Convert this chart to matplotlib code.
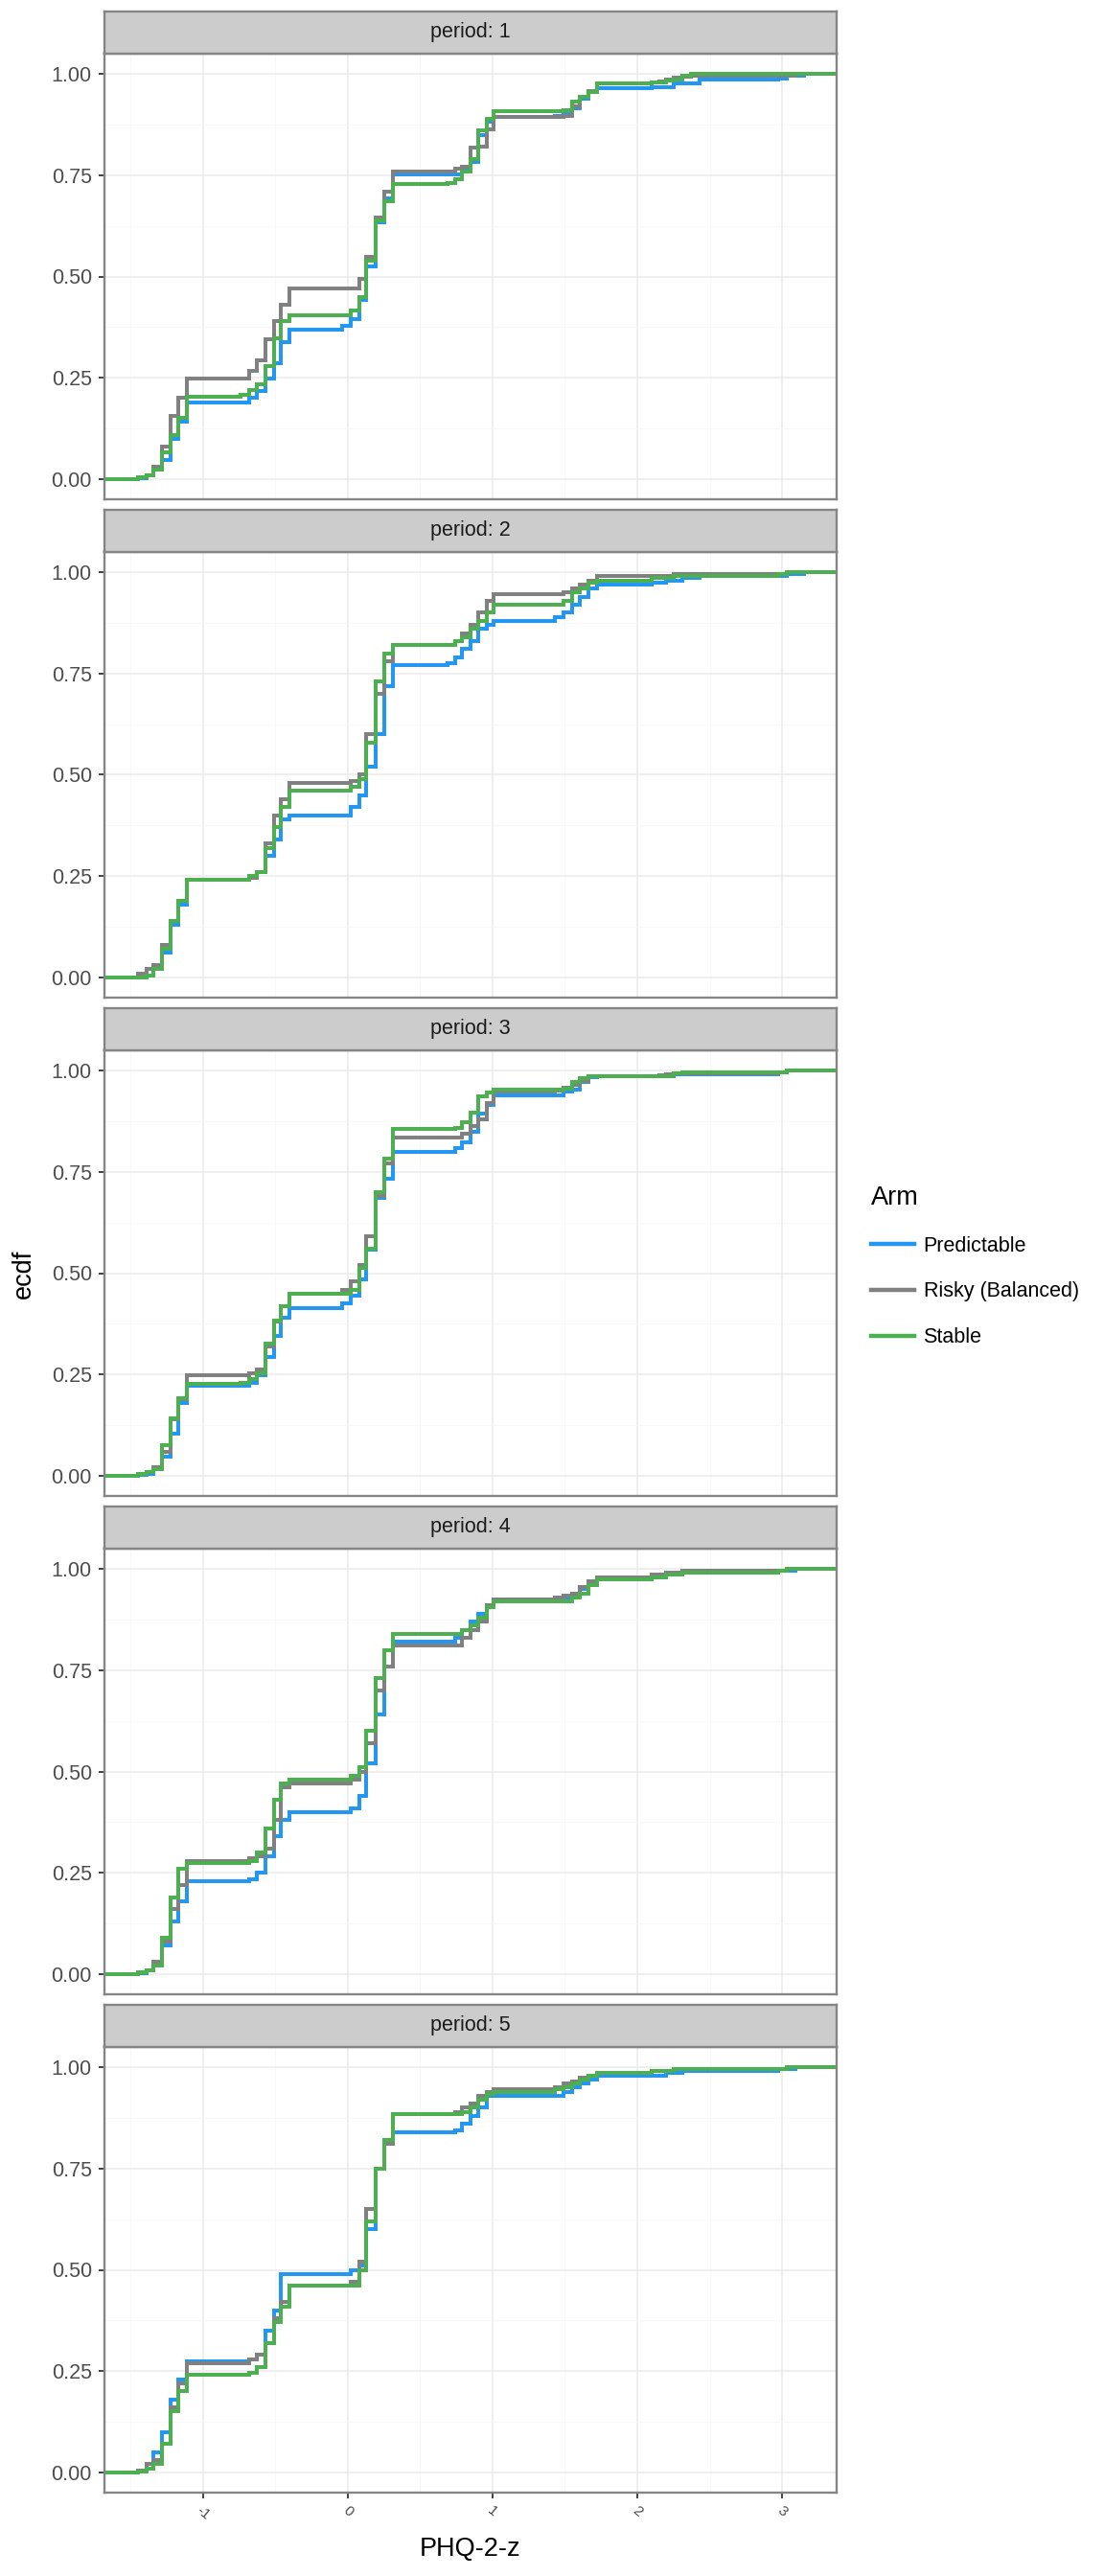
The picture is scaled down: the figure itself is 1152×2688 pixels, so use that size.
import numpy as np
import matplotlib.pyplot as plt
from matplotlib.lines import Line2D

plt.rcParams['font.family'] = ['Liberation Sans', 'DejaVu Sans']

arms = ['Predictable', 'Risky (Balanced)', 'Stable']
arm_colors = ['#2196F3', '#808080', '#4CAF50']
periods = [1, 2, 3, 4, 5]

# PHQ-2-z values where the ecdf steps
x_steps = [-1.45, -1.39, -1.34, -1.28, -1.22, -1.17, -1.11,
           -0.74, -0.68, -0.63, -0.57, -0.51, -0.46, -0.40,
           -0.04, 0.02, 0.08, 0.13, 0.19, 0.25, 0.31,
           0.69, 0.74, 0.79, 0.85, 0.90, 0.96, 1.01,
           1.43, 1.49, 1.55, 1.60, 1.66, 1.72,
           2.10, 2.15, 2.20, 2.25, 2.31, 2.37, 2.43,
           2.97, 3.03, 3.09, 3.15]

# ecdf value after each step, one row per period
predictable = [
    [0.002, 0.010, 0.027, 0.048, 0.100, 0.141, 0.190,
     0.190, 0.200, 0.217, 0.247, 0.286, 0.337, 0.369,
     0.379, 0.394, 0.443, 0.525, 0.633, 0.692, 0.752,
     0.752, 0.752, 0.766, 0.783, 0.849, 0.883, 0.894,
     0.897, 0.905, 0.915, 0.940, 0.955, 0.964,
     0.967, 0.967, 0.967, 0.977, 0.977, 0.977, 0.986,
     0.989, 0.995, 0.995, 1.000],
    [0.000, 0.005, 0.020, 0.060, 0.130, 0.180, 0.240,
     0.240, 0.245, 0.260, 0.300, 0.340, 0.390, 0.400,
     0.400, 0.420, 0.450, 0.520, 0.600, 0.720, 0.770,
     0.775, 0.790, 0.810, 0.830, 0.860, 0.870, 0.880,
     0.890, 0.900, 0.920, 0.940, 0.960, 0.970,
     0.975, 0.975, 0.980, 0.980, 0.985, 0.985, 0.990,
     0.990, 0.995, 0.995, 1.000],
    [0.002, 0.004, 0.019, 0.048, 0.103, 0.179, 0.223,
     0.223, 0.230, 0.247, 0.293, 0.345, 0.390, 0.414,
     0.426, 0.445, 0.485, 0.559, 0.686, 0.734, 0.800,
     0.800, 0.808, 0.823, 0.848, 0.893, 0.914, 0.939,
     0.940, 0.948, 0.952, 0.973, 0.983, 0.985,
     0.985, 0.985, 0.985, 0.990, 0.990, 0.990, 0.990,
     0.996, 1.000, 1.000, 1.000],
    [0.003, 0.010, 0.025, 0.070, 0.130, 0.180, 0.230,
     0.230, 0.235, 0.250, 0.290, 0.340, 0.380, 0.400,
     0.400, 0.410, 0.440, 0.520, 0.640, 0.760, 0.820,
     0.820, 0.830, 0.850, 0.870, 0.890, 0.910, 0.925,
     0.925, 0.930, 0.940, 0.950, 0.960, 0.975,
     0.980, 0.980, 0.985, 0.985, 0.990, 0.990, 0.990,
     0.995, 0.995, 1.000, 1.000],
    [0.005, 0.020, 0.050, 0.100, 0.180, 0.230, 0.275,
     0.275, 0.280, 0.290, 0.350, 0.400, 0.490, 0.490,
     0.490, 0.500, 0.510, 0.600, 0.750, 0.820, 0.840,
     0.840, 0.845, 0.860, 0.880, 0.900, 0.930, 0.930,
     0.930, 0.940, 0.950, 0.960, 0.970, 0.980,
     0.980, 0.980, 0.985, 0.985, 0.990, 0.990, 0.990,
     0.995, 0.995, 1.000, 1.000],
]

risky = [
    [0.004, 0.010, 0.030, 0.080, 0.156, 0.200, 0.248,
     0.248, 0.268, 0.293, 0.346, 0.389, 0.430, 0.470,
     0.470, 0.470, 0.494, 0.548, 0.646, 0.710, 0.758,
     0.760, 0.765, 0.772, 0.817, 0.820, 0.863, 0.894,
     0.894, 0.897, 0.920, 0.943, 0.958, 0.976,
     0.979, 0.981, 0.985, 0.990, 0.994, 0.995, 0.995,
     0.995, 0.995, 1.000, 1.000],
    [0.010, 0.020, 0.030, 0.080, 0.140, 0.190, 0.240,
     0.240, 0.245, 0.260, 0.330, 0.400, 0.440, 0.480,
     0.480, 0.485, 0.500, 0.600, 0.700, 0.780, 0.820,
     0.820, 0.830, 0.850, 0.870, 0.900, 0.930, 0.945,
     0.945, 0.950, 0.960, 0.970, 0.980, 0.990,
     0.990, 0.990, 0.990, 0.995, 0.995, 0.995, 0.995,
     0.995, 1.000, 1.000, 1.000],
    [0.004, 0.010, 0.020, 0.060, 0.140, 0.190, 0.248,
     0.248, 0.252, 0.262, 0.320, 0.380, 0.418, 0.448,
     0.458, 0.480, 0.520, 0.590, 0.690, 0.770, 0.835,
     0.835, 0.835, 0.845, 0.862, 0.880, 0.920, 0.948,
     0.950, 0.958, 0.965, 0.975, 0.985, 0.985,
     0.985, 0.988, 0.990, 0.993, 0.993, 0.993, 0.993,
     0.996, 1.000, 1.000, 1.000],
    [0.005, 0.010, 0.030, 0.080, 0.160, 0.220, 0.280,
     0.280, 0.285, 0.290, 0.310, 0.380, 0.460, 0.470,
     0.470, 0.480, 0.500, 0.570, 0.700, 0.760, 0.810,
     0.810, 0.810, 0.830, 0.850, 0.870, 0.910, 0.925,
     0.930, 0.935, 0.940, 0.955, 0.970, 0.980,
     0.985, 0.985, 0.990, 0.990, 0.995, 0.995, 0.995,
     0.995, 1.000, 1.000, 1.000],
    [0.005, 0.020, 0.030, 0.070, 0.160, 0.220, 0.270,
     0.270, 0.280, 0.290, 0.320, 0.380, 0.420, 0.460,
     0.460, 0.470, 0.520, 0.650, 0.750, 0.810, 0.885,
     0.885, 0.890, 0.900, 0.910, 0.930, 0.940, 0.945,
     0.950, 0.960, 0.965, 0.975, 0.980, 0.985,
     0.990, 0.990, 0.990, 0.995, 0.995, 0.995, 0.995,
     0.995, 1.000, 1.000, 1.000],
]

stable = [
    [0.004, 0.010, 0.023, 0.065, 0.109, 0.151, 0.204,
     0.209, 0.220, 0.234, 0.280, 0.348, 0.390, 0.405,
     0.405, 0.416, 0.449, 0.538, 0.639, 0.686, 0.728,
     0.730, 0.741, 0.758, 0.790, 0.861, 0.890, 0.907,
     0.907, 0.911, 0.931, 0.943, 0.956, 0.976,
     0.979, 0.979, 0.983, 0.987, 0.996, 1.000, 1.000,
     1.000, 1.000, 1.000, 1.000],
    [0.000, 0.005, 0.020, 0.070, 0.140, 0.190, 0.240,
     0.240, 0.250, 0.260, 0.320, 0.370, 0.420, 0.460,
     0.460, 0.470, 0.490, 0.580, 0.730, 0.800, 0.820,
     0.820, 0.830, 0.840, 0.860, 0.880, 0.900, 0.920,
     0.920, 0.930, 0.950, 0.960, 0.975, 0.980,
     0.985, 0.985, 0.985, 0.990, 0.990, 0.990, 0.990,
     0.995, 1.000, 1.000, 1.000],
    [0.004, 0.009, 0.016, 0.075, 0.141, 0.192, 0.227,
     0.230, 0.238, 0.253, 0.327, 0.382, 0.418, 0.448,
     0.448, 0.458, 0.513, 0.561, 0.700, 0.783, 0.855,
     0.855, 0.859, 0.873, 0.897, 0.937, 0.945, 0.954,
     0.954, 0.956, 0.973, 0.981, 0.986, 0.986,
     0.986, 0.986, 0.986, 0.993, 0.996, 0.996, 0.996,
     0.996, 1.000, 1.000, 1.000],
    [0.005, 0.010, 0.020, 0.090, 0.190, 0.260, 0.275,
     0.275, 0.280, 0.300, 0.360, 0.430, 0.470, 0.480,
     0.480, 0.490, 0.510, 0.600, 0.730, 0.800, 0.840,
     0.840, 0.840, 0.850, 0.860, 0.880, 0.905, 0.920,
     0.920, 0.920, 0.930, 0.940, 0.960, 0.975,
     0.980, 0.980, 0.985, 0.985, 0.990, 0.990, 0.990,
     0.995, 1.000, 1.000, 1.000],
    [0.003, 0.010, 0.020, 0.070, 0.150, 0.200, 0.240,
     0.240, 0.245, 0.260, 0.320, 0.370, 0.410, 0.460,
     0.460, 0.460, 0.500, 0.620, 0.750, 0.820, 0.885,
     0.885, 0.885, 0.890, 0.900, 0.920, 0.935, 0.940,
     0.945, 0.950, 0.960, 0.970, 0.980, 0.985,
     0.990, 0.990, 0.990, 0.995, 0.995, 0.995, 0.995,
     0.995, 1.000, 1.000, 1.000],
]

x_ticks = [-1, 0, 1, 2, 3]
x_tick_labels = ['-1', '0', '1', '2', '3']
y_ticks = [0.0, 0.25, 0.5, 0.75, 1.0]
y_tick_labels = ['0.00', '0.25', '0.50', '0.75', '1.00']

W, H = 1152, 2688
left_px, right_px = 109, 873
x_lim = (-1.68, 3.377)
border = '#858585'

fig = plt.figure(figsize=(W / 100, H / 100), dpi=100)

series = [predictable, risky, stable]
for k, period in enumerate(periods):
    strip_top = 12 + 520 * k
    top = 56 + 520 * k
    bottom = 521 + 520 * k

    ax = fig.add_axes([left_px / W, 1 - bottom / H,
                       (right_px - left_px) / W, (bottom - top) / H])
    ax.set_xlim(x_lim)
    ax.set_ylim(-0.05, 1.05)
    ax.set_xticks(x_ticks)
    ax.set_xticks([-1.5, -0.5, 0.5, 1.5, 2.5], minor=True)
    ax.set_yticks(y_ticks)
    ax.set_yticks([0.125, 0.375, 0.625, 0.875], minor=True)
    ax.set_yticklabels(y_tick_labels)
    ax.grid(which='major', color='#EBEBEB', lw=1.1)
    ax.grid(which='minor', color='#F7F7F7', lw=0.6)
    ax.set_axisbelow(True)
    ax.tick_params(axis='y', which='major', length=4.5, width=1.3,
                   color='#333333', labelsize=15.5, labelcolor='#4D4D4D', pad=5)
    ax.tick_params(which='minor', length=0)
    for sp in ax.spines.values():
        sp.set_color(border)
        sp.set_linewidth(1.7)

    for vals, col, name in zip(series, arm_colors, arms):
        xs = [x_lim[0]] + x_steps + [x_lim[1]]
        ys = [0.0] + vals[k] + [vals[k][-1]]
        ax.step(xs, ys, where='post', color=col, lw=2.85, label=name,
                solid_joinstyle='miter')

    if k == len(periods) - 1:
        ax.set_xticklabels(x_tick_labels)
        ax.tick_params(axis='x', which='major', length=4.5, width=1.3,
                       color='#333333', labelsize=11, labelcolor='#4D4D4D',
                       pad=4, labelrotation=-40)
        for lab in ax.get_xticklabels():
            lab.set_ha('center')
            lab.set_va('top')
    else:
        ax.tick_params(axis='x', which='major', length=0, labelbottom=False)

    sax = fig.add_axes([left_px / W, 1 - top / H,
                        (right_px - left_px) / W, (top - strip_top) / H])
    sax.set_facecolor('#CCCCCC')
    sax.set_xticks([])
    sax.set_yticks([])
    for sp in sax.spines.values():
        sp.set_color(border)
        sp.set_linewidth(1.7)
    sax.text(0.5, 0.5, f'period: {period}', ha='center', va='center',
             fontsize=15.5, color='#1A1A1A', transform=sax.transAxes)

fig.text(25 / W, 1 - 1329 / H, 'ecdf', rotation=90, ha='center', va='center',
         fontsize=19.5, color='black')
fig.text((left_px + right_px) / 2 / W, 1 - 2660 / H, 'PHQ-2-z',
         ha='center', va='center', fontsize=19.5, color='black')

handles = [Line2D([], [], color=c, lw=3.2) for c in arm_colors]
leg = fig.legend(handles, arms, loc='upper left',
                 bbox_to_anchor=(900 / W, 1 - 1228 / H), frameon=False,
                 fontsize=15.5, title='Arm', title_fontsize=19.5,
                 handlelength=2.1, handletextpad=0.45, labelspacing=1.25,
                 borderaxespad=0)
leg._legend_box.align = 'left'

fig.savefig('out.png', dpi=100)
